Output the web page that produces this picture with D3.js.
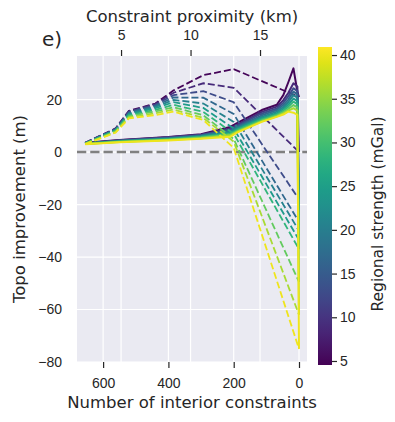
<!DOCTYPE html>
<html>
<head>
<meta charset="utf-8">
<script src="https://cdn.jsdelivr.net/npm/d3@7"></script>
<style>
  body { margin: 0; background: #fff; }
  svg { font-family: "DejaVu Sans", sans-serif; }
  .tick text { fill: #262626; font-size: 14px; }
  .tick line { stroke: #262626; stroke-width: 1.2; }
</style>
</head>
<body>
<svg id="chart" width="395" height="422"></svg>
<script>
// Regional strength of each run (mGal)
const strengths = [5, 8.9, 12.8, 16.7, 20.6, 24.4, 28.3, 32.2, 36.1, 40];

// Topo improvement once every constraint is removed (shared by both curves)
const finalVals = [21, 0, -18, -26.6, -30, -33.5, -37, -49.5, -62, -75];

// Solid curves: number of interior constraints, then one row per strength
const solidX = [655, 550, 400, 300, 211, 190, 114, 68, 48, 33, 17, 5, 0];
const solidY = [
  [3.5, 4.6, 5.7, 6.8, 9.6, 11.0, 16.0, 18.0, 21.7, 26.5, 31.9, 23.0],
  [3.4, 4.5, 5.6, 6.6, 9.0, 10.4, 15.3, 17.3, 19.8, 22.5, 26.2, 25.0],
  [3.4, 4.4, 5.5, 6.5, 8.6, 10.0, 14.7, 16.6, 18.8, 21.2, 24.3, 23.2],
  [3.3, 4.3, 5.3, 6.3, 8.2, 9.6, 14.0, 16.0, 17.9, 20.0, 23.0, 22.0],
  [3.3, 4.2, 5.2, 6.1, 7.8, 9.2, 13.4, 15.4, 17.1, 19.0, 21.7, 20.7],
  [3.2, 4.1, 5.0, 5.9, 7.4, 8.8, 12.9, 14.8, 16.4, 18.0, 20.4, 19.4],
  [3.2, 4.0, 4.9, 5.7, 7.0, 8.4, 12.4, 14.3, 15.8, 17.2, 19.2, 18.2],
  [3.1, 3.9, 4.7, 5.5, 6.6, 8.0, 12.0, 13.9, 15.2, 16.4, 17.9, 17.0],
  [3.1, 3.8, 4.6, 5.3, 6.3, 7.7, 11.7, 13.6, 14.7, 15.8, 16.7, 15.8],
  [3.0, 3.7, 4.4, 5.1, 5.8, 7.4, 11.5, 13.4, 14.3, 15.4, 15.0, 14.2]
];

// Dashed curves
const dashX = [655, 562, 521, 440, 384, 293, 200, 0];
const dashY = [
  [3.5, 9.0, 15.7, 18.5, 23.5, 29.3, 31.6],
  [3.5, 8.9, 15.5, 18.3, 22.6, 26.2, 24.5],
  [3.4, 8.8, 15.3, 18.0, 21.7, 23.2, 19.0],
  [3.4, 8.6, 15.0, 17.6, 20.8, 20.7, 14.5],
  [3.3, 8.5, 14.7, 17.2, 19.9, 18.5, 11.5],
  [3.3, 8.3, 14.4, 16.7, 19.0, 16.8, 9.0],
  [3.2, 8.1, 14.0, 16.1, 18.0, 15.3, 7.0],
  [3.2, 7.9, 13.6, 15.5, 17.1, 14.0, 5.0],
  [3.1, 7.6, 13.2, 14.8, 16.2, 13.0, 4.0],
  [3.0, 7.4, 12.8, 14.1, 15.4, 12.2, 1.6]
];

const xTicks = [600, 400, 200, 0];
const kmTicks = [5, 10, 15];
const yTicks = [-80, -60, -40, -20, 0, 20];
const cbTicks = [5, 10, 15, 20, 25, 30, 35, 40];

const L = 77, R = 307, T = 56, B = 362;
const svg = d3.select("#chart");

const x = d3.scaleLinear().domain([680, -24.5]).range([L, R]);
const xTop = d3.scaleLinear().domain([1.83, 18.38]).range([L, R]);
const y = d3.scaleLinear().domain([-80, 36.6]).range([B, T]);
const cb = d3.scaleLinear().domain([4.54, 40.92]).range([365, 47]);
const color = s => d3.interpolateViridis((s - 4.54) / (40.92 - 4.54));

// plot background + grid
svg.append("rect").attr("x", L).attr("y", T)
    .attr("width", R - L).attr("height", B - T).attr("fill", "#eaeaf2");

const grid = svg.append("g").attr("stroke", "#fff").attr("stroke-width", 1.2);
grid.selectAll(".gx").data(xTicks).join("line")
    .attr("x1", d => x(d)).attr("x2", d => x(d)).attr("y1", T).attr("y2", B);
grid.selectAll(".gk").data(kmTicks).join("line")
    .attr("x1", d => xTop(d)).attr("x2", d => xTop(d)).attr("y1", T).attr("y2", B);
grid.selectAll(".gy").data(yTicks).join("line")
    .attr("x1", L).attr("x2", R).attr("y1", d => y(d)).attr("y2", d => y(d));

svg.append("clipPath").attr("id", "clip")
    .append("rect").attr("x", L).attr("y", T).attr("width", R - L).attr("height", B - T);

// zero line
svg.append("line")
    .attr("x1", L).attr("x2", R).attr("y1", y(0)).attr("y2", y(0))
    .attr("stroke", "#808080").attr("stroke-width", 2.5)
    .attr("stroke-dasharray", "9.25,4");

const line = d3.line().x(d => x(d[0])).y(d => y(d[1]));
const plot = svg.append("g").attr("clip-path", "url(#clip)");

strengths.forEach((s, i) => {
    const solidPts = solidX.map((v, j) => [v, j < solidY[i].length ? solidY[i][j] : finalVals[i]]);
    const dashPts = dashX.map((v, j) => [v, j < dashY[i].length ? dashY[i][j] : finalVals[i]]);

    plot.append("path").attr("d", line(solidPts))
        .attr("fill", "none").attr("stroke", color(s))
        .attr("stroke-width", 2).attr("stroke-linejoin", "round");
    plot.append("path").attr("d", line(dashPts))
        .attr("fill", "none").attr("stroke", color(s))
        .attr("stroke-width", 1.8).attr("stroke-dasharray", "7,3");
});

// axes
const axBottom = svg.append("g").attr("transform", `translate(0,${B})`)
    .call(d3.axisBottom(x).tickValues(xTicks).tickSize(6).tickPadding(10));
const axTop = svg.append("g").attr("transform", `translate(0,${T})`)
    .call(d3.axisTop(xTop).tickValues(kmTicks).tickSize(6).tickPadding(10));
const axLeft = svg.append("g").attr("transform", `translate(${L},0)`)
    .call(d3.axisLeft(y).tickValues(yTicks).tickSize(0).tickPadding(15)
        .tickFormat(d => d < 0 ? "\u2212" + Math.abs(d) : d));
[axBottom, axTop, axLeft].forEach(g => g.select(".domain").remove());

// axis labels
const label = (txt, tx, ty, rot, size) => svg.append("text")
    .attr("transform", `translate(${tx},${ty}) rotate(${rot})`)
    .attr("text-anchor", "middle").attr("fill", "#262626")
    .attr("font-size", size).text(txt);

label("Number of interior constraints", 192, 408, 0, 16.5);
label("Constraint proximity (km)", 192, 22, 0, 16.5);
label("Topo improvement (m)", 25, 209, -90, 16.5);
svg.append("text").attr("x", 42).attr("y", 46).attr("font-size", 20)
    .attr("fill", "#262626").text("e)");

// colorbar
const grad = svg.append("defs").append("linearGradient")
    .attr("id", "vir").attr("x1", 0).attr("y1", 1).attr("x2", 0).attr("y2", 0);
d3.range(0, 1.0001, 0.05).forEach(t => {
    grad.append("stop").attr("offset", t).attr("stop-color", d3.interpolateViridis(t));
});
svg.append("rect").attr("x", 318).attr("y", 47).attr("width", 14).attr("height", 318)
    .attr("fill", "url(#vir)");

const cbAxis = svg.append("g").attr("transform", "translate(332,0)")
    .call(d3.axisRight(cb).tickValues(cbTicks).tickSize(5).tickPadding(3));
cbAxis.select(".domain").remove();

label("Regional strength (mGal)", 383, 214, -90, 15.5);
</script>
</body>
</html>
